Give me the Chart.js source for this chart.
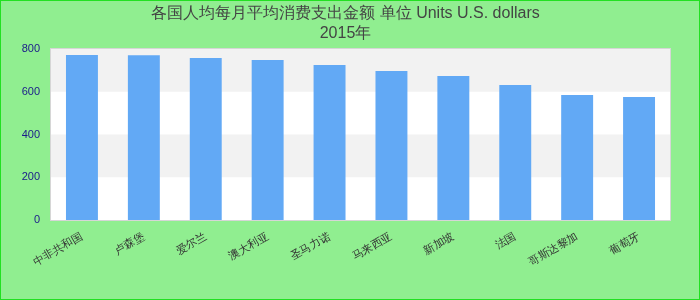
<!DOCTYPE html>
<html>
<head>
<meta charset="utf-8">
<script src="https://cdn.jsdelivr.net/npm/chart.js@4.4.1/dist/chart.umd.min.js"></script>
<style>
  html, body { margin: 0; padding: 0; background: #90ee90; }
  canvas { display: block; }
</style>
</head>
<body>
<canvas id="c" width="700" height="300"></canvas>
<script>
const titleLines = ["各国人均每月平均消费支出金额 单位 Units U.S. dollars", "2015年"];
const categories = ["中非共和国", "卢森堡", "爱尔兰", "澳大利亚", "圣马力诺", "马来西亚", "新加坡", "法国", "哥斯达黎加", "葡萄牙"];
const values = [772, 771, 758, 749, 725, 697, 674, 632, 585, 576];
const yTicks = [0, 200, 400, 600, 800];

const bgPlugin = {
  id: 'bg',
  beforeDraw(chart) {
    const ctx = chart.ctx;
    ctx.save();
    ctx.fillStyle = '#90ee90';
    ctx.fillRect(0, 0, chart.width, chart.height);
    const a = chart.chartArea;
    const y = chart.scales.y;
    ctx.fillStyle = '#ffffff';
    ctx.fillRect(a.left, a.top, a.right - a.left, a.bottom - a.top);
    ctx.fillStyle = '#f2f2f2';
    for (let i = 0; i < yTicks.length - 1; i++) {
      if (i % 2 === 1) {
        const y0 = y.getPixelForValue(yTicks[i]);
        const y1 = y.getPixelForValue(yTicks[i + 1]);
        ctx.fillRect(a.left, y1, a.right - a.left, y0 - y1);
      }
    }
    ctx.strokeStyle = '#d6d6d6';
    ctx.lineWidth = 1;
    ctx.strokeRect(a.left - 0.5, a.top - 0.5, a.right - a.left + 1, a.bottom - a.top + 1);
    ctx.restore();
  },
  afterDraw(chart) {
    const ctx = chart.ctx;
    ctx.save();
    ctx.strokeStyle = '#22e022';
    ctx.lineWidth = 2;
    ctx.strokeRect(0, 0, chart.width, chart.height);
    ctx.restore();
  }
};

new Chart(document.getElementById('c'), {
  type: 'bar',
  data: {
    labels: categories,
    datasets: [{
      data: values,
      backgroundColor: '#62a9f5',
      borderWidth: 0,
      categoryPercentage: 1,
      barPercentage: 0.516
    }]
  },
  options: {
    responsive: false,
    animation: false,
    devicePixelRatio: 1,
    layout: { padding: { left: 21, right: 30, top: 0, bottom: 0 } },
    plugins: {
      legend: { display: false },
      tooltip: { enabled: false },
      title: {
        display: true,
        text: titleLines,
        color: '#444444',
        font: { family: 'Liberation Sans, Arial, sans-serif', size: 16, weight: 'normal', lineHeight: 1.25 },
        padding: { top: 4, bottom: 5 }
      }
    },
    scales: {
      x: {
        grid: { display: false, drawTicks: false },
        border: { display: false },
        ticks: {
          color: '#333333',
          font: { family: 'Liberation Sans, Arial, sans-serif', size: 11 },
          minRotation: 30,
          maxRotation: 30,
          autoSkip: false,
          padding: 10
        },
        afterFit(scale) { scale.height = 80; }
      },
      y: {
        min: 0,
        max: 800,
        grid: { display: false, drawTicks: false },
        border: { display: false },
        afterBuildTicks(scale) { scale.ticks = yTicks.map(v => ({ value: v })); },
        ticks: {
          color: '#1a1a8a',
          font: { family: 'Liberation Sans, Arial, sans-serif', size: 11 },
          padding: 11
        },
        afterFit(scale) { scale.width = 30; }
      }
    }
  },
  plugins: [bgPlugin]
});
</script>
</body>
</html>
